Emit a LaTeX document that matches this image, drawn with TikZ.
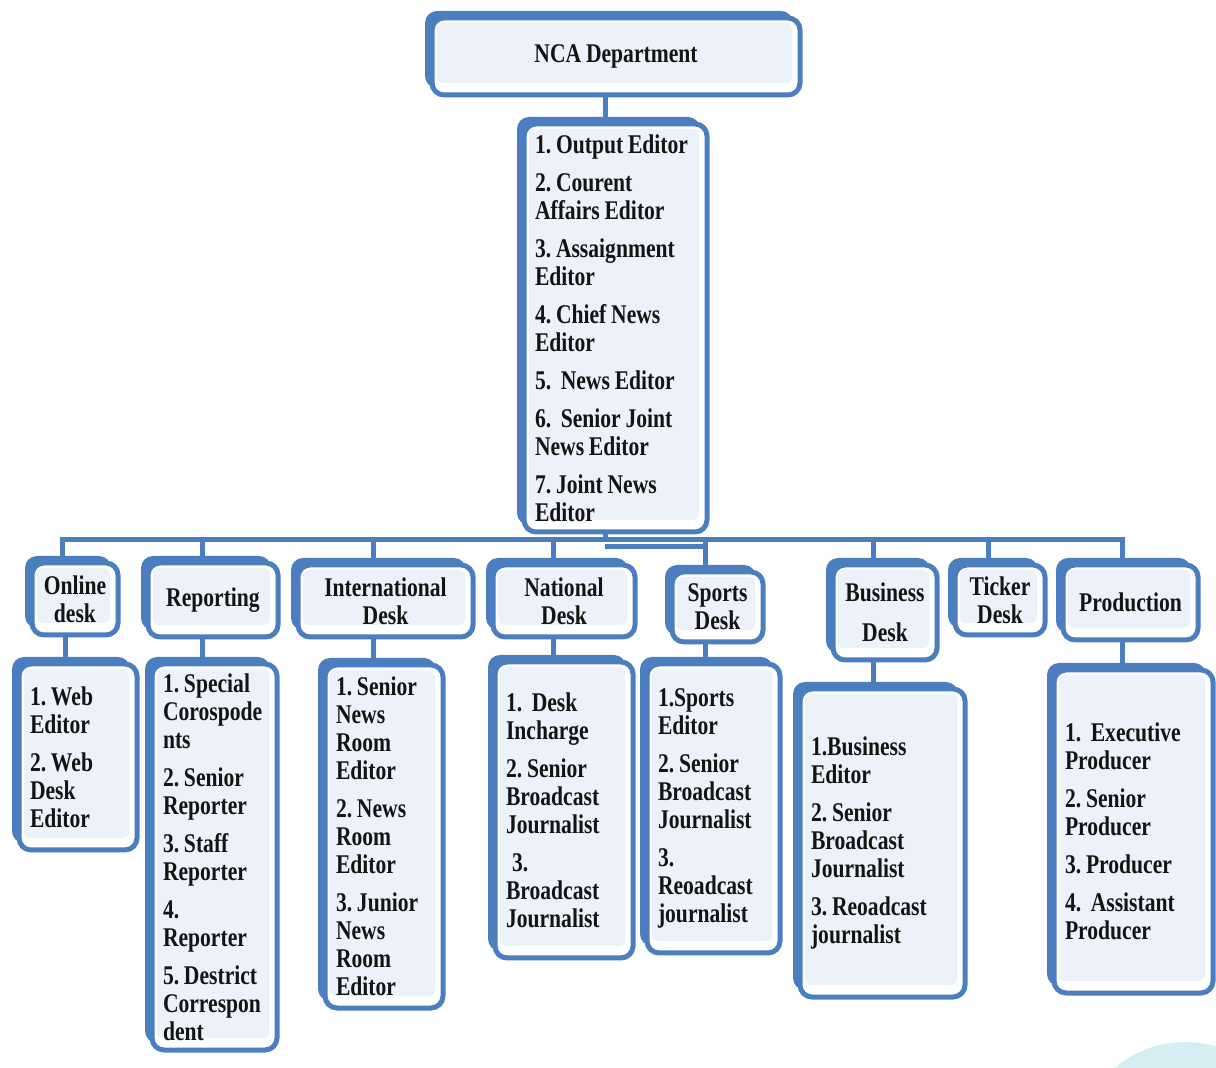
\documentclass[tikz,border=0pt]{standalone}
\usepackage{fontspec}
\setmainfont{Liberation Serif}[FakeStretch=0.8, WordSpace=0.7]
\usetikzlibrary{shadows}
\definecolor{bblue}{HTML}{4A7EBE}
\definecolor{bfill}{HTML}{EDF1F9}
\definecolor{txt}{HTML}{141414}
\definecolor{deco}{HTML}{D6EDF3}
\newcommand{\wsp}{\hspace{2.4pt}}
\tikzset{
  box/.style={draw=bblue, line width=2.5pt, rounded corners=6pt, fill=white,
    general shadow={fill=bblue, shadow xshift=-3.5pt, shadow yshift=3.5pt},
    path picture={\fill[bfill,rounded corners=3pt]
      ([shift={(2.5pt,-2.5pt)}]path picture bounding box.north west) rectangle
      ([shift={(-4pt,6pt)}]path picture bounding box.south east);},
    font=\fontsize{13.5}{14}\selectfont\bfseries\frenchspacing,
    execute at begin node={\hyphenpenalty=10000\exhyphenpenalty=10000},
    text=txt, inner sep=0pt, anchor=center},
  hdr/.style={box, align=center},
  lst/.style={box, align=left, inner xsep=5.5pt},
  conn/.style={draw=bblue, line width=2.5pt},
}
\begin{document}
\begin{tikzpicture}[x=0.5pt,y=-0.5pt]
\path[use as bounding box] (0,0) rectangle (1216,1068);
\begin{scope}
  \clip (0,0) rectangle (1216,1068);
  \fill[deco] (1185,1150) circle[radius=108];
\end{scope}

% top
\node[hdr, minimum width=184pt, minimum height=38.5pt] (nca) at (616,56.5) {NCA\wsp Department};
\node[lst, text width=80.5pt, minimum height=204pt] (ed) at (615.5,328)
 {1.\wsp Output\wsp Editor\\[5pt]2.\wsp Courent\\Affairs\wsp Editor\\[5pt]3.\wsp Assaignment\\Editor\\[5pt]4.\wsp Chief\wsp News\\Editor\\[5pt]5.\wsp\wsp News\wsp Editor\\[5pt]6.\wsp\wsp Senior\wsp Joint\\News\wsp Editor\\[5pt]7.\wsp Joint\wsp News\\Editor};

% headers
\node[hdr, minimum width=43pt, minimum height=36pt] (onh) at (75,599) {Online\\desk};
\node[hdr, minimum width=65pt, minimum height=37pt] (reph) at (213,600) {Reporting};
\node[hdr, minimum width=87.5pt, minimum height=36pt] (inth) at (385.5,601) {International\\Desk};
\node[hdr, minimum width=71pt, minimum height=36pt] (nath) at (564,601) {National\\Desk};
\node[hdr, minimum width=45.5pt, minimum height=35pt] (sph) at (717.5,607) {Sports\\Desk};
\node[hdr, minimum width=52pt, minimum height=47.5pt] (bush) at (885,612.5) {Business\\[6pt]Desk};
\node[hdr, minimum width=45pt, minimum height=35pt] (tickh) at (1000,600) {Ticker\\Desk};
\node[hdr, minimum width=67.5pt, minimum height=37.5pt] (prodh) at (1130.5,602.5) {Production};

% lists
\node[lst, text width=48pt, minimum height=93pt] (onl) at (78,757)
 {1.\wsp Web\\Editor\\[5pt]2.\wsp Web\\Desk\\Editor};
\node[lst, text width=51.5pt, minimum height=193pt] (repl) at (214.5,857)
 {1.\wsp Special\\Corospode\\nts\\[5pt]2.\wsp Senior\\Reporter\\[5pt]3.\wsp Staff\\Reporter\\[5pt]4.\\Reporter\\[5pt]5.\wsp Destrict\\Correspon\\dent};
\node[lst, text width=48pt, minimum height=171.5pt] (intl) at (384,836.5)
 {1.\wsp Senior\\News\\Room\\Editor\\[5pt]2.\wsp News\\Room\\Editor\\[5pt]3.\wsp Junior\\News\\Room\\Editor};
\node[lst, text width=58pt, minimum height=148pt] (natl) at (564,810)
 {1.\wsp\wsp Desk\\Incharge\\[5pt]2.\wsp Senior\\Broadcast\\Journalist\\[5pt]\hspace{3pt}3.\\Broadcast\\Journalist};
\node[lst, text width=55.5pt, minimum height=144.5pt] (spl) at (713.5,808.5)
 {1.Sports\\Editor\\[5pt]2.\wsp Senior\\Broadcast\\Journalist\\[5pt]3.\\Reoadcast\\journalist};
\node[lst, text width=71.5pt, minimum height=154pt] (busl) at (882.5,843)
 {1.Business\\Editor\\[5pt]2.\wsp Senior\\Broadcast\\Journalist\\[5pt]3.\wsp Reoadcast\\journalist};
\node[lst, text width=68.5pt, minimum height=161.5pt] (prodl) at (1133.5,831.5)
 {1.\wsp\wsp Executive\\Producer\\[5pt]2.\wsp Senior\\Producer\\[5pt]3.\wsp Producer\\[5pt]4.\wsp\wsp Assistant\\Producer};

% connector positions
\coordinate (x0) at (605,0);
\coordinate (bus) at (0,540);
\coordinate (sj) at (0,547);
\coordinate (x1) at (62,0);
\coordinate (x1b) at (65,0);
\coordinate (x2) at (202,0);
\coordinate (x3) at (373,0);
\coordinate (x4) at (553,0);
\coordinate (x5) at (705,0);
\coordinate (x6) at (873,0);
\coordinate (x7) at (988,0);
\coordinate (x8) at (1122,0);

\draw[conn] (nca.south -| x0) -- (ed.north -| x0);
\draw[conn] (ed.south -| x0) -- (x0 |- bus);
\draw[conn] (x1 |- onh.north) -- (x1 |- bus) -- (x8 |- bus) -- (x8 |- prodh.north);
\draw[conn] (x0 |- sj) -- (x5 |- sj);
\draw[conn] (x2 |- bus) -- (x2 |- reph.north);
\draw[conn] (x3 |- bus) -- (x3 |- inth.north);
\draw[conn] (x4 |- bus) -- (x4 |- nath.north);
\draw[conn] (x5 |- bus) -- (x5 |- sph.north);
\draw[conn] (x6 |- bus) -- (x6 |- bush.north);
\draw[conn] (x7 |- bus) -- (x7 |- tickh.north);

\draw[conn] (x1b |- onh.south) -- (x1b |- onl.north);
\draw[conn] (x2 |- reph.south) -- (x2 |- repl.north);
\draw[conn] (x3 |- inth.south) -- (x3 |- intl.north);
\draw[conn] (x4 |- nath.south) -- (x4 |- natl.north);
\draw[conn] (x5 |- sph.south) -- (x5 |- spl.north);
\draw[conn] (x6 |- bush.south) -- (x6 |- busl.north);
\draw[conn] (x8 |- prodh.south) -- (x8 |- prodl.north);
\end{tikzpicture}
\end{document}
